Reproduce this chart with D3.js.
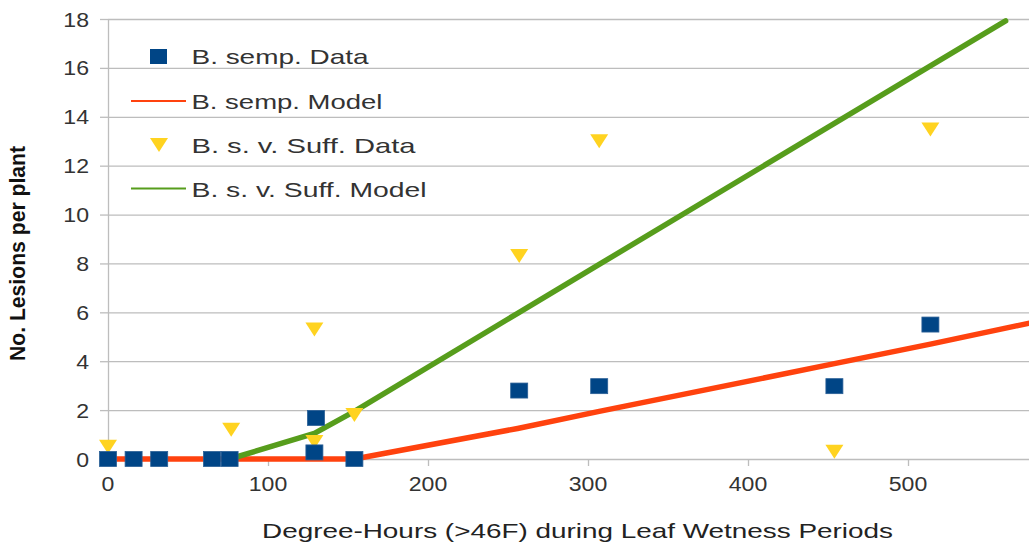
<!DOCTYPE html>
<html>
<head>
<meta charset="utf-8">
<script src="https://cdn.jsdelivr.net/npm/d3@7"></script>
<style>
html,body{margin:0;padding:0;background:#fff;}
svg{display:block;}
text{font-family:"Liberation Sans",Arial,sans-serif;}
</style>
</head>
<body>
<svg id="chart" width="1029" height="543"></svg>
<script>
// ---- data ----
const xTickValues = [0, 100, 200, 300, 400, 500];
const yTickValues = [0, 2, 4, 6, 8, 10, 12, 14, 16, 18];

const sempDataX = [0, 16, 32, 65, 76, 130, 129, 154, 257, 307, 454, 514];
const sempDataY = [0, 0, 0, 0, 0, 1.68, 0.27, 0, 2.8, 2.98, 2.98, 5.5];

const sempModelX = [0, 16, 32, 65, 76, 129, 154, 256, 307, 454, 514, 576];
const sempModelY = [0, 0, 0, 0, 0, 0, 0, 1.25, 1.95, 3.9, 4.7, 5.56];

const suffDataX = [0, 77, 129, 129, 154, 257, 307, 454, 514];
const suffDataY = [0.5, 1.2, 5.3, 0.7, 1.8, 8.3, 13.0, 0.3, 13.48];

const suffModelX = [76, 129, 154, 256, 307, 454, 514, 561];
const suffModelY = [0, 1.05, 1.95, 5.96, 7.96, 13.73, 16.08, 17.92];

const legendLabels = ["B. semp. Data", "B. semp. Model", "B. s. v. Suff. Data", "B. s. v. Suff. Model"];
const xTitle = "Degree-Hours (>46F) during Leaf Wetness Periods";
const yTitle = "No. Lesions per plant";

// ---- setup ----
const W = 1029, H = 543;
const svg = d3.select("#chart");
const x = d3.scaleLinear().domain([0, 600]).range([108, 1068]);
const y = d3.scaleLinear().domain([0, 18]).range([459, 19]);

const COL = {blue: "#004586", red: "#ff420e", yellow: "#ffd320", green: "#579d1c", grid: "#bdbdbd", text: "#333333"};
const SX = 1.1; // horizontal stretch of the reference's text

function stext(parent, px, py, str, opt) {
  const g = parent.append("g").attr("transform", `translate(${px},${py}) scale(${opt.sx || SX},1)`);
  const t = g.append("text").attr("x", 0).attr("y", 0)
    .attr("font-size", opt.size || 21)
    .attr("fill", opt.fill || COL.text)
    .attr("text-anchor", opt.anchor || "start")
    .text(str);
  if (opt.weight) t.attr("font-weight", opt.weight);
  return t;
}

// gridlines (horizontal)
svg.append("g").selectAll("line").data(yTickValues).join("line")
  .attr("x1", x(0)).attr("x2", W)
  .attr("y1", d => y(d) + 0.5).attr("y2", d => y(d) + 0.5)
  .attr("stroke", COL.grid).attr("stroke-width", 1.3);

// y axis line + ticks
svg.append("line").attr("x1", x(0) + 0.5).attr("x2", x(0) + 0.5)
  .attr("y1", y(18)).attr("y2", y(0) + 7)
  .attr("stroke", COL.grid).attr("stroke-width", 1.3);
svg.append("g").selectAll("line").data(yTickValues).join("line")
  .attr("x1", x(0) - 8).attr("x2", x(0))
  .attr("y1", d => y(d) + 0.5).attr("y2", d => y(d) + 0.5)
  .attr("stroke", COL.grid).attr("stroke-width", 1.3);
// x ticks
svg.append("g").selectAll("line").data(xTickValues).join("line")
  .attr("x1", d => x(d) + 0.5).attr("x2", d => x(d) + 0.5)
  .attr("y1", y(0)).attr("y2", y(0) + 7)
  .attr("stroke", COL.grid).attr("stroke-width", 1.3);

// tick labels
const labG = svg.append("g");
yTickValues.forEach(v => stext(labG, 89, y(v) + 7.5, String(v), {anchor: "end"}));
xTickValues.forEach(v => stext(labG, x(v), 491, String(v), {anchor: "middle"}));

// axis titles
const xt = svg.append("text").attr("x", 262).attr("y", 538)
  .attr("font-size", 21).attr("fill", "#222")
  .attr("textLength", 631).attr("lengthAdjust", "spacingAndGlyphs")
  .text(xTitle);
svg.append("g").attr("transform", "translate(25,253.5) scale(1.12,1) rotate(-90)")
  .append("text").attr("x", 0).attr("y", 0)
  .attr("text-anchor", "middle").attr("font-size", 20).attr("font-weight", "bold")
  .attr("fill", "#111")
  .attr("textLength", 215).attr("lengthAdjust", "spacingAndGlyphs")
  .text(yTitle);

// model lines
const plot = svg.append("g");
svg.append("clipPath").attr("id", "clip").append("rect")
  .attr("x", x(0)).attr("y", 0).attr("width", W - x(0)).attr("height", y(0) + 10);
const line = d3.line().x(d => x(d[0])).y(d => y(d[1]));
plot.append("path").attr("clip-path", "url(#clip)")
  .attr("d", line(d3.zip(sempModelX, sempModelY)))
  .attr("fill", "none").attr("stroke", COL.red).attr("stroke-width", 5.5)
  .attr("stroke-linejoin", "round").attr("stroke-linecap", "round");
plot.append("path")
  .attr("d", line(d3.zip(suffModelX, suffModelY)))
  .attr("fill", "none").attr("stroke", COL.green).attr("stroke-width", 5.5)
  .attr("stroke-linejoin", "round").attr("stroke-linecap", "round");

// markers
const TW = 18, TH = 14, SQW = 17, SQH = 15;
const tri = (cx, cy) => `M${cx - TW / 2},${cy - TH / 2}L${cx + TW / 2},${cy - TH / 2}L${cx},${cy + TH / 2}Z`;
plot.append("g").selectAll("path").data(d3.zip(suffDataX, suffDataY)).join("path")
  .attr("d", d => tri(x(d[0]), y(d[1])))
  .attr("fill", COL.yellow);
plot.append("g").selectAll("rect").data(d3.zip(sempDataX, sempDataY)).join("rect")
  .attr("x", d => x(d[0]) - SQW / 2).attr("y", d => y(d[1]) - SQH / 2)
  .attr("width", SQW).attr("height", SQH)
  .attr("fill", COL.blue).attr("stroke", "#2a5f96").attr("stroke-width", 0.8);

// legend
const leg = svg.append("g");
const legY = [56.5, 101, 145, 188.5];
const legBase = [64, 108.5, 152.7, 196.7];
const legW = [177, 191, 224, 235];
leg.append("rect").attr("x", 158.5 - SQW / 2).attr("y", legY[0] - SQH / 2)
  .attr("width", SQW).attr("height", SQH).attr("fill", COL.blue);
leg.append("line").attr("x1", 131).attr("x2", 186).attr("y1", legY[1]).attr("y2", legY[1])
  .attr("stroke", COL.red).attr("stroke-width", 2.2);
leg.append("path").attr("d", tri(159, legY[2])).attr("fill", COL.yellow);
leg.append("line").attr("x1", 131).attr("x2", 186).attr("y1", legY[3]).attr("y2", legY[3])
  .attr("stroke", COL.green).attr("stroke-width", 2.2);
legendLabels.forEach((s, i) => {
  leg.append("text").attr("x", 191.5).attr("y", legBase[i])
    .attr("font-size", 21).attr("fill", COL.text)
    .attr("textLength", legW[i]).attr("lengthAdjust", "spacingAndGlyphs")
    .text(s);
});
</script>
</body>
</html>
